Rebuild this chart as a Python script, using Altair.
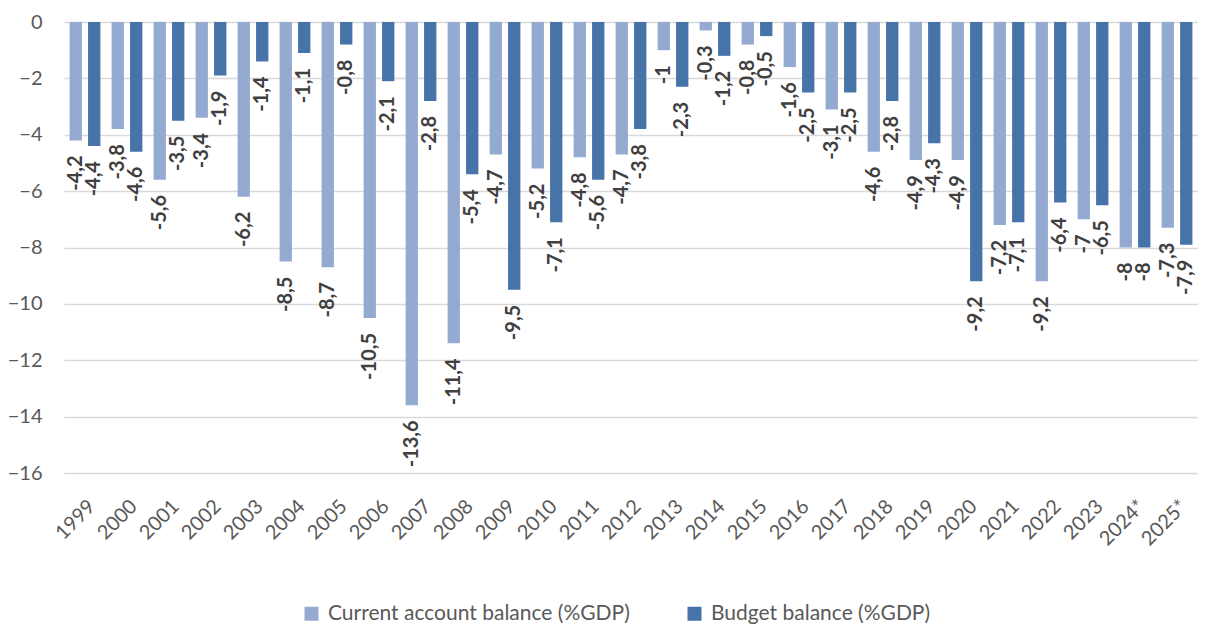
import altair as alt
import pandas as pd

years = ["1999", "2000", "2001", "2002", "2003", "2004", "2005", "2006", "2007",
         "2008", "2009", "2010", "2011", "2012", "2013", "2014", "2015", "2016",
         "2017", "2018", "2019", "2020", "2021", "2022", "2023", "2024*", "2025*"]
current_account = [-4.2, -3.8, -5.6, -3.4, -6.2, -8.5, -8.7, -10.5, -13.6,
                   -11.4, -4.7, -5.2, -4.8, -4.7, -1, -0.3, -0.8, -1.6,
                   -3.1, -4.6, -4.9, -4.9, -7.2, -9.2, -7, -8, -7.3]
budget_balance = [-4.4, -4.6, -3.5, -1.9, -1.4, -1.1, -0.8, -2.1, -2.8,
                  -5.4, -9.5, -7.1, -5.6, -3.8, -2.3, -1.2, -0.5, -2.5,
                  -2.5, -2.8, -4.3, -9.2, -7.1, -6.4, -6.5, -8, -7.9]
series_names = ["Current account balance (%GDP)", "Budget balance (%GDP)"]
series_colors = ["#94AAD1", "#4673A8"]
y_ticks = [-16, -14, -12, -10, -8, -6, -4, -2, 0]

rows = []
for i, yr in enumerate(years):
    rows.append({"year": yr, "series": series_names[0], "value": current_account[i]})
    rows.append({"year": yr, "series": series_names[1], "value": budget_balance[i]})
df = pd.DataFrame(rows)

x_enc = alt.X("year:N", sort=years,
              scale=alt.Scale(paddingInner=0.267, paddingOuter=0.133),
              axis=alt.Axis(title=None, labelAngle=-45, labelPadding=23, ticks=False,
                            tickSize=0, domain=False, grid=False,
                            labelFont="Lato", labelFontSize=20, labelColor="#595959"))
xoff_enc = alt.XOffset("series:N", sort=series_names,
                       scale=alt.Scale(paddingInner=0.333, paddingOuter=0))
y_enc = alt.Y("value:Q", scale=alt.Scale(domain=[-16, 0], nice=False, zero=True),
              axis=alt.Axis(title=None, values=y_ticks, ticks=False, tickSize=0,
                            domain=False, grid=True, gridColor="#D9D9D9", gridWidth=1.5,
                            labelPadding=22, labelFont="Lato", labelFontSize=20,
                            labelColor="#595959"))
color_enc = alt.Color("series:N", sort=series_names,
                      scale=alt.Scale(domain=series_names, range=series_colors),
                      legend=alt.Legend(title=None, orient="none", legendX=237, legendY=581,
                                        direction="horizontal", symbolType="square",
                                        symbolSize=196, symbolStrokeWidth=0,
                                        labelFont="Lato", labelFontSize=21,
                                        labelColor="#595959", labelLimit=500,
                                        columnPadding=54, labelOffset=6, padding=0))

bars = alt.Chart(df).mark_bar().encode(
    x=x_enc, xOffset=xoff_enc, y=y_enc, color=color_enc
)

labels = alt.Chart(df).transform_calculate(
    label="replace(toString(datum.value), '.', ',')"
).mark_text(
    angle=270, align="right", baseline="middle", dx=-15,
    font="Lato", fontWeight="bold", fontSize=20, color="#404040"
).encode(
    x=x_enc, xOffset=xoff_enc, y=y_enc, text="label:N"
)

chart = alt.layer(bars, labels).properties(
    width=1134, height=451,
    autosize=alt.AutoSizeParams(type="none"),
    padding={"left": 56, "top": 14, "right": 0, "bottom": 154},
    background="white",
).configure_view(stroke=None)

chart.save("out.html", embed_options={"renderer": "svg", "actions": False})
